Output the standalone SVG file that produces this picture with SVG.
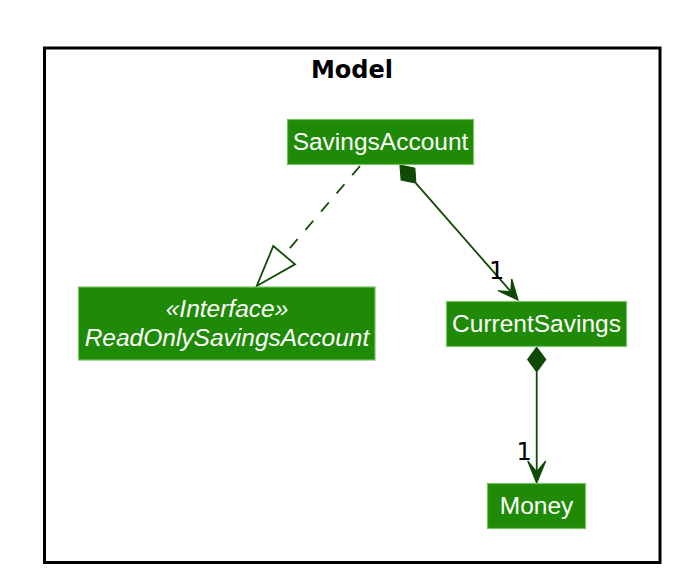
<svg xmlns="http://www.w3.org/2000/svg" width="680" height="582" viewBox="0 0 680 582">
<defs>
<style>
.node rect{fill:#1F8A05;stroke:#78C266;stroke-width:1.2}
.nt{font-family:"Liberation Sans",Arial,sans-serif;font-size:24.5px;fill:#FFFFFF;text-anchor:middle}
.it{font-style:italic}
.edge{stroke:#0F4A04;stroke-width:1.8;fill:none}
.head{fill:#0F4A04;stroke:#0F4A04;stroke-width:1.2}
.hollow{fill:#FFFFFF;stroke:#0F4A04;stroke-width:1.8}
.lbl{font-family:"DejaVu Sans",sans-serif;font-size:24px;fill:#000000}
</style>
</defs>
<rect width="680" height="582" fill="#FFFFFF"/>
<g id="frame">
<rect x="44.5" y="48" width="615.5" height="514.5" fill="none" stroke="#000000" stroke-width="3"/>
<text x="352" y="78" font-family="'DejaVu Sans',sans-serif" font-size="24" font-weight="bold" text-anchor="middle" fill="#000000">Model</text>
</g>
<g id="connectors">
<line class="edge" x1="360" y1="166" x2="284" y2="255" stroke-dasharray="12,12"/>
<polygon class="hollow" points="256.7,286 273.3,246 295,264.3"/>
<line class="edge" x1="415.8" y1="183.1" x2="516" y2="297.5"/>
<polygon class="head" points="400,165 414.8,168.2 415.8,183.1 401.2,180"/>
<polygon class="head" points="518,300 498.1,290.8 510.8,291.7 511.7,279"/>
<line class="edge" x1="536.7" y1="371.7" x2="536.7" y2="480"/>
<polygon class="head" points="536.7,347.3 545.7,359.5 536.7,371.7 527.7,359.5"/>
<polygon class="head" points="536.7,483 527.7,461 536.7,472 545.7,461"/>
<text class="lbl" x="489" y="279">1</text>
<text class="lbl" x="516.5" y="460">1</text>
</g>
<g id="SavingsAccount" class="node">
<rect x="287.5" y="119.5" width="186" height="45"/>
<text class="nt" x="380.5" y="150">SavingsAccount</text>
</g>
<g id="ReadOnlySavingsAccount" class="node">
<rect x="78.5" y="287" width="296.5" height="73"/>
<text class="nt it" x="227" y="317">«Interface»</text>
<text class="nt it" x="227" y="346">ReadOnlySavingsAccount</text>
</g>
<g id="CurrentSavings" class="node">
<rect x="446.5" y="301.5" width="180" height="45"/>
<text class="nt" x="536.5" y="332">CurrentSavings</text>
</g>
<g id="Money" class="node">
<rect x="487.5" y="483.5" width="98" height="45"/>
<text class="nt" x="536.5" y="514">Money</text>
</g>
</svg>
